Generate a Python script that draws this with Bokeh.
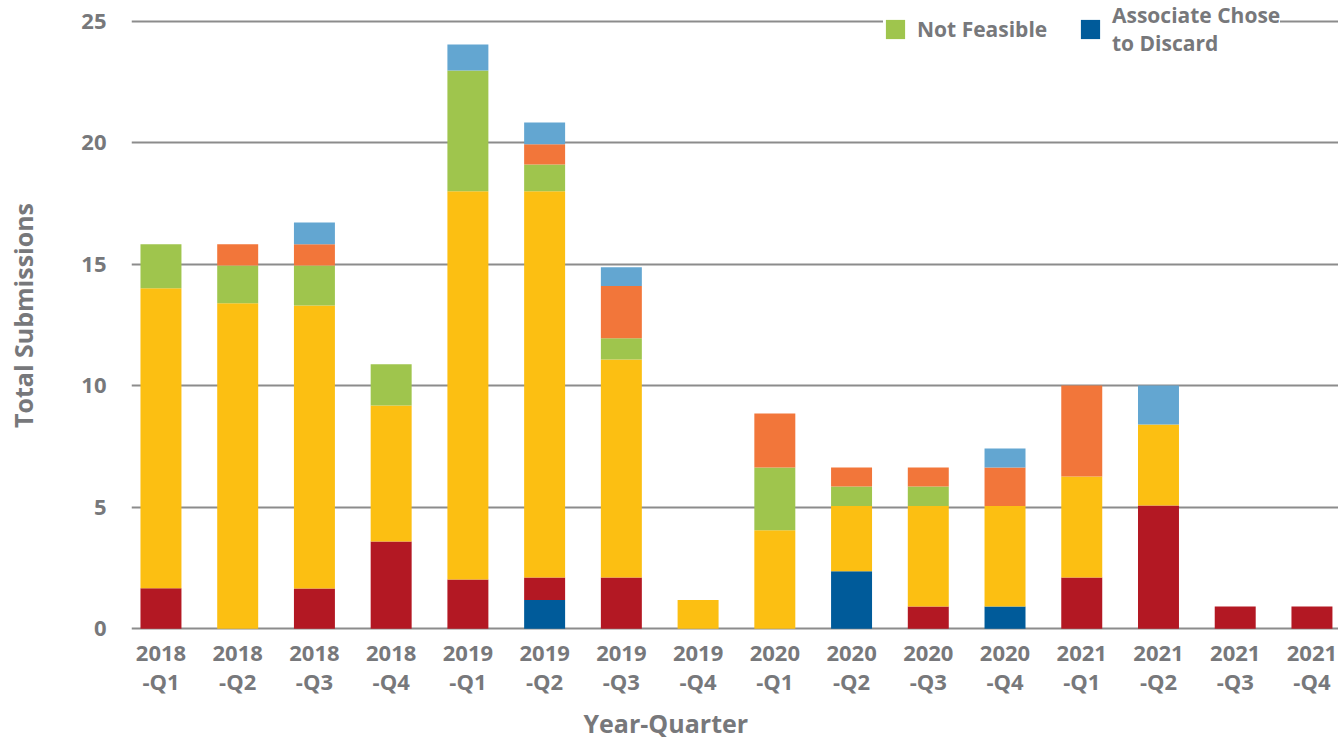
from bokeh.plotting import figure
from bokeh.models import Range1d, FixedTicker, Legend, LegendItem, Title, ColumnDataSource
from bokeh.embed import file_html
from bokeh.resources import INLINE

# ---- data ----
quarters = ["2018-Q1", "2018-Q2", "2018-Q3", "2018-Q4",
            "2019-Q1", "2019-Q2", "2019-Q3", "2019-Q4",
            "2020-Q1", "2020-Q2", "2020-Q3", "2020-Q4",
            "2021-Q1", "2021-Q2", "2021-Q3", "2021-Q4"]
tick_labels = ["2018\n-Q1", "2018\n-Q2", "2018\n-Q3", "2018\n-Q4",
               "2019\n-Q1", "2019\n-Q2", "2019\n-Q3", "2019\n-Q4",
               "2020\n-Q1", "2020\n-Q2", "2020\n-Q3", "2020\n-Q4",
               "2021\n-Q1", "2021\n-Q2", "2021\n-Q3", "2021\n-Q4"]
associate_chose_to_discard = [0, 0, 0, 0, 0, 1.18, 0, 0, 0, 2.37, 0, 0.92, 0, 0, 0, 0]
red_status = [1.67, 0, 1.66, 3.59, 2.03, 0.93, 2.11, 0, 0, 0, 0.92, 0, 2.11, 5.07, 0.92, 0.92]
yellow_status = [12.34, 13.39, 11.64, 5.60, 15.97, 15.89, 8.97, 1.18, 4.05, 2.68, 4.13, 4.13, 4.16, 3.34, 0, 0]
not_feasible = [1.81, 1.56, 1.65, 1.69, 4.97, 1.10, 0.87, 0, 2.59, 0.81, 0.81, 0, 0, 0, 0, 0]
orange_status = [0, 0.87, 0.87, 0, 0, 0.84, 2.15, 0, 2.22, 0.78, 0.78, 1.59, 3.74, 0, 0, 0]
lightblue_status = [0, 0, 0.90, 0, 1.07, 0.89, 0.78, 0, 0, 0, 0, 0.78, 0, 1.60, 0, 0]
y_ticks = [0, 5, 10, 15, 20, 25]

series_keys = ["associate", "red", "yellow", "green", "orange", "lightblue"]
series_colors = ["#005b9a", "#b31823", "#fcbf12", "#9fc54d", "#f2763a", "#63a6d1"]

TEXT_COLOR = "#77787b"
FONT = "Open Sans"

source = ColumnDataSource(dict(
    x=list(range(len(quarters))),
    associate=associate_chose_to_discard,
    red=red_status,
    yellow=yellow_status,
    green=not_feasible,
    orange=orange_status,
    lightblue=lightblue_status,
))

p = figure(frame_width=1207, frame_height=630,
           x_range=Range1d(-0.384, 15.346), y_range=Range1d(-0.07, 25.852),
           output_backend="svg", toolbar_location=None,
           min_border_left=131, min_border_right=0, min_border_top=0, min_border_bottom=0)
p.outline_line_color = None
p.background_fill_color = "white"
p.border_fill_color = "white"

renderers = p.vbar_stack(series_keys, x="x", width=0.534, color=series_colors,
                         line_color=None, source=source)

# axes
p.xaxis.ticker = FixedTicker(ticks=list(range(len(quarters))))
p.xaxis.major_label_overrides = {i: t for i, t in enumerate(tick_labels)}
p.yaxis.ticker = FixedTicker(ticks=y_ticks)
for ax in (p.xaxis[0], p.yaxis[0]):
    ax.axis_line_color = None
    ax.major_tick_line_color = None
    ax.minor_tick_line_color = None
    ax.major_label_text_font = FONT
    ax.major_label_text_font_style = "bold"
    ax.major_label_text_font_size = "22px"
    ax.major_label_text_color = TEXT_COLOR
p.xaxis.major_label_standoff = 0
p.xaxis.major_label_text_line_height = 0.98
p.yaxis.major_label_standoff = 19

p.yaxis.axis_label = "Total Submissions"
p.yaxis.axis_label_text_font = FONT
p.yaxis.axis_label_text_font_style = "bold"
p.yaxis.axis_label_text_font_size = "25px"
p.yaxis.axis_label_text_color = TEXT_COLOR
p.yaxis.axis_label_standoff = 38

p.xgrid.grid_line_color = None
p.ygrid.grid_line_color = "#8c8c8c"
p.ygrid.grid_line_width = 1.8

xt = Title(text="Year-Quarter", align="left", offset=452, standoff=11,
           text_font=FONT, text_font_style="bold", text_font_size="25px",
           text_color=TEXT_COLOR)
p.add_layout(xt, "below")

legend = Legend(items=[
    LegendItem(label="Not Feasible", renderers=[renderers[3]]),
    LegendItem(label="Associate Chose\nto Discard", renderers=[renderers[0]]),
], orientation="horizontal", location=(752, 573),
    padding=8, margin=0, spacing=0, label_standoff=10, label_width=161,
    glyph_width=24, glyph_height=24,
    label_text_font=FONT, label_text_font_style="bold", label_text_font_size="21px",
    label_text_color=TEXT_COLOR, label_text_line_height=1.0,
    border_line_color=None, background_fill_color="white", background_fill_alpha=1)
p.add_layout(legend)

open("out.html", "w").write(file_html(p, INLINE))
